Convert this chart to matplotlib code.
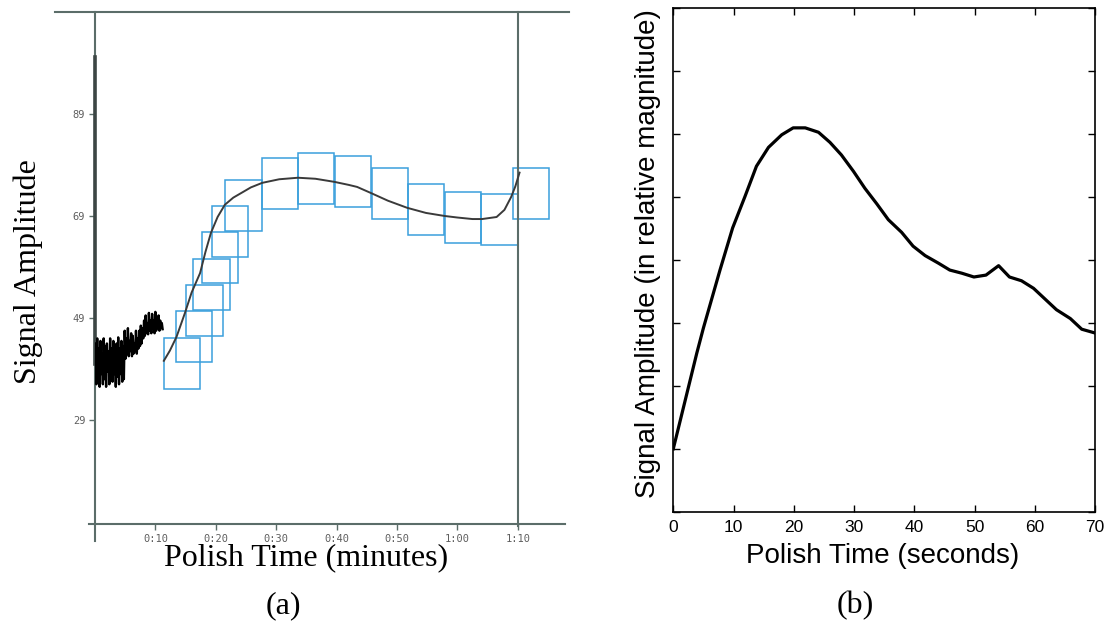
import matplotlib
matplotlib.use("Agg")
import matplotlib.pyplot as plt
from matplotlib.patches import Rectangle
import numpy as np

# ── Panel (a): screenshot-style trace (seconds, amplitude) ────────────────────
noise_v = [
    44.0, 36.0, 45.0, 37.0, 43.0, 35.5, 44.5, 38.0, 42.0, 36.0, 45.0, 37.0,
    43.5, 35.5, 44.0, 38.5, 42.5, 36.0, 45.0, 37.0, 43.0, 36.5, 44.5, 38.0,
    42.0, 35.5, 44.0, 37.5, 45.2, 36.0, 43.0, 38.0, 44.5, 36.5, 43.5, 37.0,
    46.5, 41.0, 45.0, 42.0, 47.0, 41.5, 44.5, 42.5, 46.0, 41.5, 45.5, 42.0,
    44.0, 42.5, 46.5, 42.0, 45.0, 43.0, 46.5, 43.5, 47.5, 44.0, 47.0,
    45.0, 48.5, 45.5, 49.5, 46.0, 48.0, 45.8, 50.0, 46.5, 48.5, 46.0, 49.8,
    47.0, 48.5, 46.0, 50.2, 46.5, 49.0, 47.0, 49.5, 46.5, 48.5, 47.0, 48.0,
    46.8,
]
noise_t_end = 11.2

fit_t = [11.4, 12.4, 13.5, 14.9, 16.0, 17.4, 18.3, 19.2, 20.3, 21.5, 22.9,
         24.5, 25.8, 27.7, 30.5, 33.6, 36.5, 39.6, 42.0, 43.4, 45.7, 48.5,
         51.7, 54.8, 57.9, 60.0, 62.5, 64.1, 66.5, 67.8, 68.9, 69.6, 70.3]
fit_v = [40.6, 42.6, 45.3, 50.0, 54.0, 57.8, 62.0, 65.7, 68.8, 71.2, 72.6,
         73.7, 74.6, 75.5, 76.2, 76.5, 76.3, 75.7, 75.1, 74.7, 73.5, 72.0,
         70.6, 69.6, 69.0, 68.7, 68.4, 68.4, 68.8, 70.2, 72.7, 74.8, 77.5]

box_t = [11.35, 13.4, 15.1, 16.3, 17.7, 19.3, 21.6, 27.6, 33.6, 39.7, 45.8,
         51.8, 57.9, 64.0, 69.2]
box_v = [35.0, 40.3, 45.5, 50.6, 55.8, 60.9, 66.1, 70.3, 71.4, 70.7, 68.4,
         65.3, 63.8, 63.3, 68.4]
BOX_W, BOX_H = 6.05, 10.0

a_yticks = [29, 49, 69, 89]
a_xticks = [10, 20, 30, 40, 50, 60, 70]
a_xlabels = ["0:10", "0:20", "0:30", "0:40", "0:50", "1:00", "1:10"]

# ── Panel (b): smoothed signal ────────────────────────────────────────────────
b_t = [0, 3.9, 5.0, 7.75, 9.85, 11.9, 13.8, 15.8, 18.0, 19.9, 21.9, 24.1,
       26.0, 27.9, 29.9, 31.8, 33.8, 35.7, 37.9, 39.8, 41.8, 44.0, 45.9,
       47.9, 49.9, 51.9, 54.0, 55.8, 57.8, 59.8, 61.7, 63.6, 65.9, 67.8, 70.0]
b_v = [1.0, 2.52, 2.92, 3.84, 4.51, 5.01, 5.49, 5.79, 5.99, 6.10, 6.10, 6.03,
       5.87, 5.67, 5.41, 5.14, 4.89, 4.64, 4.44, 4.22, 4.07, 3.95, 3.84,
       3.79, 3.73, 3.76, 3.91, 3.73, 3.67, 3.55, 3.38, 3.21, 3.07, 2.90, 2.84]

AXIS_GRAY = "#5b6d69"
BOX_BLUE = "#3a9fdc"

fig = plt.figure(figsize=(11.07, 6.25), dpi=100)

# ── (a) ───────────────────────────────────────────────────────────────────────
ax = fig.add_axes([95 / 1107, 101 / 625, 465 / 1107, 512 / 625])
ax.set_xlim(0, 77)
ax.set_ylim(8.6, 109)
for s in ax.spines.values():
    s.set_visible(False)

# frame lines of the screenshot
ax.plot([-6.6, 78.5], [109, 109], color=AXIS_GRAY, lw=1.5, clip_on=False)
ax.plot([0, 0], [5.3, 109], color=AXIS_GRAY, lw=1.5, clip_on=False)
ax.plot([0, 0], [40, 100.2], color="#3c4644", lw=2.6, clip_on=False)
ax.plot([-1, 77.8], [8.6, 8.6], color=AXIS_GRAY, lw=1.5, clip_on=False)
ax.plot([70, 70], [8.3, 109], color=AXIS_GRAY, lw=1.5, clip_on=False)

noise_t = np.linspace(0.1, noise_t_end, len(noise_v))
ax.plot(noise_t, noise_v, color="black", lw=1.7)

for t0, v0 in zip(box_t, box_v):
    ax.add_patch(Rectangle((t0, v0), BOX_W, BOX_H, fill=False,
                           edgecolor=BOX_BLUE, lw=1.1, clip_on=False))

ax.plot(fit_t, fit_v, color="#3a3a3a", lw=1.4)

ax.set_yticks(a_yticks)
ax.set_yticklabels([str(v) for v in a_yticks])
ax.set_xticks(a_xticks)
ax.set_xticklabels(a_xlabels)
ax.tick_params(axis="both", direction="out", length=4, width=1,
               color=AXIS_GRAY, labelcolor="#5e5e5e", labelsize=7.5, pad=3)
for lab in ax.get_xticklabels() + ax.get_yticklabels():
    lab.set_family("DejaVu Sans Mono")

fig.text(28 / 1107, 1 - 272 / 625, "Signal Amplitude", rotation=90,
         ha="center", va="center", family="Liberation Serif", fontsize=23)
fig.text(306 / 1107, 1 - 558 / 625, "Polish Time (minutes)",
         ha="center", va="center", family="Liberation Serif", fontsize=23)
fig.text(283 / 1107, 1 - 606 / 625, "(a)",
         ha="center", va="center", family="Liberation Serif", fontsize=23)

# ── (b) ───────────────────────────────────────────────────────────────────────
bx = fig.add_axes([673.3 / 1107, 113.3 / 625, 421.7 / 1107, 503.4 / 625])
bx.plot(b_t, b_v, color="black", lw=2.3)
bx.set_xlim(0, 70)
bx.set_ylim(0, 8)
bx.set_xticks(range(0, 71, 10))
bx.set_yticks(range(0, 9))
bx.set_yticklabels([])
bx.tick_params(axis="both", direction="in", length=5, width=1,
               top=True, right=True, labelsize=12.5, pad=6)
for s in bx.spines.values():
    s.set_linewidth(1.2)
for lab in bx.get_xticklabels():
    lab.set_family("Liberation Sans")

fig.text(648 / 1107, 1 - 254 / 625, "Signal Amplitude (in relative magnitude)",
         rotation=90, ha="center", va="center", family="Liberation Sans",
         fontsize=20)
fig.text(883 / 1107, 1 - 556 / 625, "Polish Time (seconds)",
         ha="center", va="center", family="Liberation Sans", fontsize=20)
fig.text(855 / 1107, 1 - 606 / 625, "(b)",
         ha="center", va="center", family="Liberation Serif", fontsize=23)

fig.savefig("out.png", dpi=100)
